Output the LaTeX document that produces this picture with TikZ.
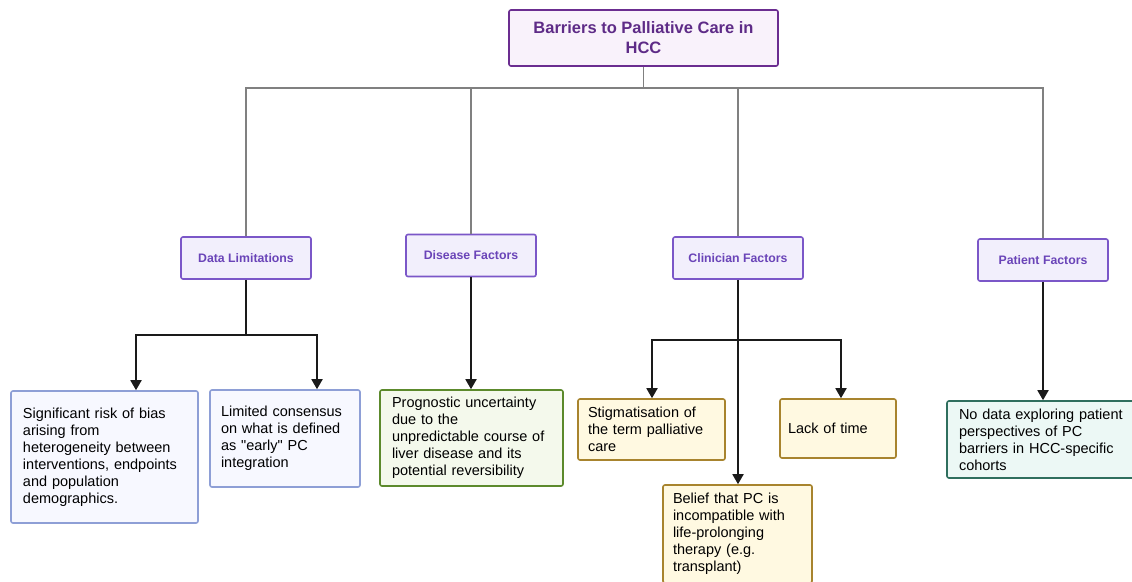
\documentclass[tikz,border=0pt]{standalone}
\usepackage{fontspec}
\setmainfont{Liberation Sans}
\newfontfamily\leaffont{Liberation Sans}
\newcommand\leafsetup{\leaffont\fontsize{14.5}{17}\selectfont\hyphenpenalty=10000\relax\hbadness=10000\relax\hfuzz=20pt\relax}
\usetikzlibrary{arrows.meta}
\definecolor{titlefill}{HTML}{F9F2FB}
\definecolor{titledraw}{HTML}{6B2D90}
\definecolor{titletext}{HTML}{5E2B87}
\definecolor{catfill}{HTML}{F2EFFC}
\definecolor{catdraw}{HTML}{7B57C8}
\definecolor{cattext}{HTML}{6A44B8}
\definecolor{bluefill}{HTML}{F7F8FF}
\definecolor{bluedraw}{HTML}{8E9FD6}
\definecolor{greenfill}{HTML}{F4F9EC}
\definecolor{greendraw}{HTML}{5C8A2C}
\definecolor{yelfill}{HTML}{FFF9E1}
\definecolor{yeldraw}{HTML}{A8842E}
\definecolor{tealfill}{HTML}{ECF8F5}
\definecolor{tealdraw}{HTML}{2F6F5E}
\definecolor{grayline}{HTML}{808080}
\definecolor{blkline}{HTML}{1A1A1A}
\begin{document}
\begin{tikzpicture}[x=1pt,y=-1pt,
  box/.style={rectangle, rounded corners=2pt, line width=1.6pt, inner xsep=0pt, inner ysep=0pt},
  titlebox/.style={box, draw=titledraw, fill=titlefill, text=titletext, align=center,
    font=\fontsize{16.5}{20}\selectfont\bfseries},
  catbox/.style={box, draw=catdraw, fill=catfill, text=cattext, align=center,
    font=\fontsize{12.3}{15}\selectfont\bfseries, minimum width=130pt, minimum height=42pt},
  leaf/.style={box, align=left, text=black, font=\leafsetup},
  blueleaf/.style={leaf, draw=bluedraw, fill=bluefill},
  greenleaf/.style={leaf, draw=greendraw, fill=greenfill},
  yelleaf/.style={leaf, draw=yeldraw, fill=yelfill},
  tealleaf/.style={leaf, draw=tealdraw, fill=tealfill},
  gline/.style={draw=grayline, line width=1.8pt},
  bline/.style={draw=blkline, line width=1.8pt},
  barr/.style={bline, -{Triangle[width=11pt,length=10pt]}}
]
\useasboundingbox[fill=white] (0,0) rectangle (1132,581);

% title
\node[titlebox, minimum width=269pt, minimum height=56pt] (title) at (643.5,38) {Barriers to Palliative Care in\\HCC};

% categories
\node[catbox] (dl) at (246,258) {Data Limitations};
\node[catbox] (df) at (471,255.5) {Disease Factors};
\node[catbox] (cf) at (738,258) {Clinician Factors};
\node[catbox] (pf) at (1043,260) {Patient Factors};

% leaves
\node[blueleaf, minimum width=187pt, minimum height=132pt, text width=163pt, inner xsep=12pt] (sig) at (104.5,457)
  {Significant risk of bias\\arising from\\heterogeneity between\\interventions, endpoints\\and population\\demographics.};
\node[blueleaf, minimum width=150pt, minimum height=97pt, text width=128pt, inner xsep=11pt] (lim) at (285,438.5)
  {Limited consensus\\on what is defined\\as "early" PC\\integration};
\node[greenleaf, minimum width=183pt, minimum height=96pt, text width=159pt, inner xsep=12pt] (prog) at (471.5,438)
  {Prognostic uncertainty\\due to the\\unpredictable course of\\liver disease and its\\potential reversibility};
\node[yelleaf, minimum width=147pt, minimum height=61pt, text width=127pt, inner xsep=10pt] (stig) at (651.5,429.5)
  {Stigmatisation of\\the term palliative\\care};
\node[yelleaf, minimum width=116pt, minimum height=59pt, text width=100pt, inner xsep=8pt] (lack) at (838,428.5)
  {Lack of time};
\node[yelleaf, minimum width=149pt, minimum height=98pt, text width=129pt, inner xsep=10pt] (bel) at (737.5,534)
  {Belief that PC is\\incompatible with\\life-prolonging\\therapy (e.g.\\transplant)};
\node[tealleaf, minimum width=194pt, minimum height=77pt, text width=170pt, inner xsep=12pt] (nod) at (1044,439.5)
  {No data exploring patient\\perspectives of PC\\barriers in HCC-specific\\cohorts};

% gray connectors
\coordinate (bar) at (0,88);
\draw[gline] (dl.north) |- (title.south |- bar) -| (pf.north);
\draw[gline] (title.south) -- (title.south |- bar);
\draw[gline] (df.north) -- (df.north |- bar);
\draw[gline] (cf.north) -- (cf.north |- bar);

% data limitations
\coordinate (d1) at (136,335);
\coordinate (d2) at (317,335);
\draw[bline] (dl.south) -- (dl.south |- d1);
\draw[bline, line cap=rect] (d1) -- (d2);
\draw[barr] (d1) -- (d1 |- sig.north);
\draw[barr] (d2) -- (d2 |- lim.north);

% disease
\draw[barr] (df.south) -- (prog.north -| df.south);

% clinician
\coordinate (c1) at (652,340);
\coordinate (c2) at (841,340);
\draw[bline, line cap=rect] (c1) -- (c2);
\draw[barr] (c1) -- (c1 |- stig.north);
\draw[barr] (c2) -- (c2 |- lack.north);
\draw[barr] (cf.south) -- (bel.north -| cf.south);

% patient
\draw[barr] (pf.south) -- (nod.north -| pf.south);
\end{tikzpicture}
\end{document}
